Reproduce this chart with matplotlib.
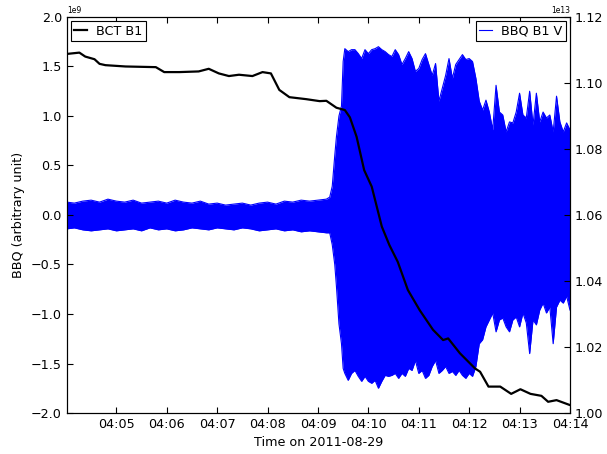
import numpy as np
import matplotlib
matplotlib.use('Agg')
import matplotlib.pyplot as plt
import matplotlib.dates as mdates
from datetime import datetime, timedelta

# start of the acquisition window
t_start = datetime(2011, 8, 29, 4, 4, 0)

# BBQ B1 V oscillation envelope (seconds after t_start, units of 1e9)
bbq_sec = ([1] + list(range(10, 311, 10))
           + [314, 317, 320, 322, 325, 328, 330]
           + list(range(332, 601, 4)))
bbq_hi = [0.13, 0.12, 0.14, 0.15, 0.13, 0.16, 0.14, 0.13, 0.15, 0.12,
          0.13, 0.14, 0.12, 0.15, 0.13, 0.12, 0.14, 0.11, 0.12, 0.10,
          0.11, 0.12, 0.10, 0.12, 0.13, 0.11, 0.14, 0.13, 0.15, 0.14,
          0.15, 0.16,
          0.18, 0.29, 0.60, 0.79, 1.00, 1.10, 1.55,
          1.68, 1.65, 1.67, 1.67, 1.63, 1.58, 1.67, 1.63, 1.67, 1.68,
          1.70, 1.67, 1.65, 1.62, 1.60, 1.67, 1.62, 1.52, 1.58, 1.65,
          1.58, 1.45, 1.48, 1.57, 1.63, 1.52, 1.41, 1.53, 1.15, 1.28,
          1.41, 1.58, 1.38, 1.52, 1.57, 1.62, 1.57, 1.58, 1.55, 1.38,
          1.15, 1.06, 1.16, 1.04, 0.86, 1.31, 1.04, 1.01, 0.84, 0.94,
          0.93, 1.04, 1.23, 1.01, 0.98, 1.25, 0.91, 1.23, 0.94, 1.04,
          0.98, 1.01, 0.84, 1.20, 0.94, 0.84, 0.93, 0.86]
bbq_lo = [-0.14, -0.13, -0.15, -0.16, -0.15, -0.14, -0.16, -0.15, -0.14, -0.16,
          -0.13, -0.15, -0.14, -0.16, -0.15, -0.13, -0.14, -0.15, -0.13, -0.14,
          -0.15, -0.13, -0.14, -0.16, -0.15, -0.14, -0.16, -0.15, -0.17, -0.16,
          -0.17, -0.18,
          -0.18, -0.30, -0.50, -0.72, -1.10, -1.30, -1.55,
          -1.60, -1.67, -1.60, -1.57, -1.63, -1.68, -1.63, -1.68, -1.70, -1.67,
          -1.75, -1.68, -1.62, -1.63, -1.62, -1.60, -1.65, -1.60, -1.63, -1.55,
          -1.57, -1.47, -1.60, -1.57, -1.65, -1.62, -1.53, -1.47, -1.60, -1.57,
          -1.53, -1.60, -1.58, -1.62, -1.57, -1.62, -1.65, -1.60, -1.63, -1.53,
          -1.30, -1.26, -1.13, -1.06, -0.99, -1.18, -1.06, -1.04, -1.13, -1.18,
          -1.06, -1.03, -1.13, -0.99, -1.09, -1.40, -1.06, -1.11, -0.96, -0.89,
          -0.99, -0.93, -1.30, -0.93, -0.86, -0.89, -0.82, -0.96]

# BCT B1 beam intensity (seconds after t_start, units of 1e13)
bct_sec = [1, 16, 23, 34, 40, 47, 71, 107, 117, 135, 158, 170, 182, 194,
           206, 222, 234, 244, 254, 266, 286, 302, 310, 322, 332, 338, 346,
           355, 364, 376, 385, 395, 407, 421, 437, 449, 455, 469, 487, 493,
           503, 517, 530, 541, 553, 566, 574, 584, 600]
bct_val = [1.1088, 1.1092, 1.1080, 1.1072, 1.1058, 1.1054, 1.1050, 1.1048,
           1.1033, 1.1033, 1.1035, 1.1043, 1.1029, 1.1021, 1.1025, 1.1021,
           1.1033, 1.1029, 1.0979, 1.0957, 1.0951, 1.0945, 1.0946, 1.0925,
           1.0918, 1.0896, 1.0837, 1.0736, 1.0686, 1.0565, 1.0509, 1.0458,
           1.0373, 1.0312, 1.0252, 1.0221, 1.0226, 1.0181, 1.0135, 1.0125,
           1.0080, 1.0080, 1.0058, 1.0072, 1.0058, 1.0052, 1.0034, 1.0039,
           1.0024]

bbq_time = [t_start + timedelta(seconds=s) for s in bbq_sec]
bct_time = [t_start + timedelta(seconds=s) for s in bct_sec]
hi = np.array(bbq_hi) * 1e9
lo = np.array(bbq_lo) * 1e9

fs = 9.2
fig = plt.figure(figsize=(6.07, 4.54), dpi=100)
ax = fig.add_axes([0.110, 0.0903, 0.829, 0.8723])

ax.fill_between(bbq_time, lo, hi, color='blue', lw=0)
ax.plot(bbq_time, hi, color='blue', lw=0.8, label='BBQ B1 V')
ax.plot(bbq_time, lo, color='blue', lw=0.8)
ax.set_ylim(-2e9, 2e9)
ax.set_yticks(np.arange(-2.0, 2.01, 0.5) * 1e9)
ax.set_xlim(bbq_time[0], bbq_time[-1])
ax.xaxis.set_major_locator(mdates.MinuteLocator())
ax.xaxis.set_major_formatter(mdates.DateFormatter('%H:%M'))
ax.set_xlabel('Time on 2011-08-29', fontsize=fs)
ax.set_ylabel('BBQ (arbitrary unit)', fontsize=fs)
ax.tick_params(direction='in', top=True, length=4, labelsize=fs)
ax.yaxis.get_offset_text().set_fontsize(5.5)

ax2 = ax.twinx()
ax2.plot(bct_time, np.array(bct_val) * 1e13, color='black', lw=1.6,
         label='BCT B1')
ax2.set_ylim(1.00e13, 1.12e13)
ax2.set_yticks(np.arange(1.00, 1.1201, 0.02) * 1e13)
ax2.ticklabel_format(axis='y', useOffset=False)
ax2.tick_params(direction='in', length=4, labelsize=fs)
ax2.yaxis.get_offset_text().set_fontsize(5.5)
ax2.set_ylabel('BCT B1 (protons)', fontsize=fs)
ax2.set_xlim(bbq_time[0], bbq_time[-1])

leg_kw = dict(fontsize=fs, fancybox=False, edgecolor='black', framealpha=1,
              handlelength=1.0, handletextpad=0.7, borderpad=0.25,
              borderaxespad=0.35)
leg1 = ax2.legend(loc='upper left', **leg_kw)
leg1.get_frame().set_linewidth(0.8)
leg2 = ax.legend(loc='upper right', **leg_kw)
leg2.get_frame().set_linewidth(0.8)

fig.savefig('out.png', dpi=100)
